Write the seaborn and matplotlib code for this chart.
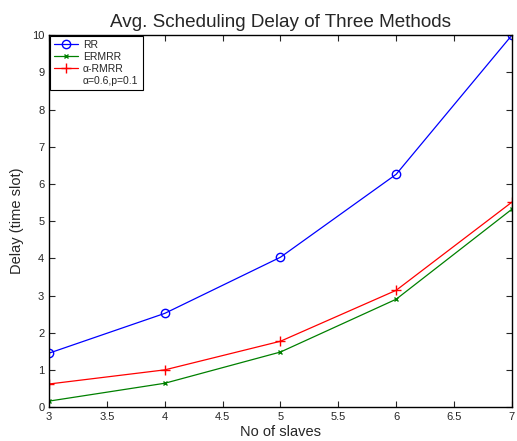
import pandas as pd
import matplotlib
matplotlib.use("Agg")
import matplotlib.pyplot as plt
import seaborn as sns
from matplotlib.lines import Line2D

# data
slaves = [3, 4, 5, 6, 7]
rr = [1.45, 2.52, 4.03, 6.26, 10.0]
ermrr = [0.16, 0.64, 1.48, 2.90, 5.32]
rmrr = [0.62, 1.00, 1.77, 3.14, 5.51]
methods = ["RR", "ERMRR", "α-RMRR"]

sns.set_theme(style="ticks")
plt.rcParams["font.family"] = ["Liberation Sans", "DejaVu Sans"]

df = pd.DataFrame({
    "slaves": slaves * 3,
    "delay": rr + ermrr + rmrr,
    "method": [m for m in methods for _ in slaves],
})

colors = {"RR": "#0000FF", "ERMRR": "#008000", "α-RMRR": "#FF0000"}
markers = {"RR": "o", "ERMRR": "x", "α-RMRR": "+"}
sizes = {"RR": 6, "ERMRR": 3.5, "α-RMRR": 7}

fig, ax = plt.subplots(figsize=(5.17, 4.41), dpi=100)
for m in methods:
    sub = df[df["method"] == m]
    sns.lineplot(data=sub, x="slaves", y="delay", ax=ax, color=colors[m],
                 marker=markers[m], markersize=sizes[m], markerfacecolor="none",
                 markeredgecolor=colors[m], markeredgewidth=1.0, linewidth=0.9,
                 label=m, legend=False)

ax.set_xlim(3, 7)
ax.set_ylim(0, 10)
ax.set_xticks([3, 3.5, 4, 4.5, 5, 5.5, 6, 6.5, 7])
ax.set_xticklabels(["3", "3.5", "4", "4.5", "5", "5.5", "6", "6.5", "7"])
ax.set_yticks(range(0, 11))
ax.tick_params(direction="in", top=True, right=True, labelsize=8, length=4, width=0.8)
for s in ax.spines.values():
    s.set_linewidth(1.0)
    s.set_color("black")

ax.set_title("Avg. Scheduling Delay of Three Methods", fontsize=13.6, pad=6)
ax.set_xlabel("No of slaves", fontsize=10.5, labelpad=2)
ax.set_ylabel("Delay (time slot)", fontsize=10.5, labelpad=6)

handles = [Line2D([], [], color=colors[m], marker=markers[m], markersize=sizes[m],
                  markerfacecolor="none", linewidth=0.9) for m in methods]
handles.append(Line2D([], [], color="none"))
labels = methods + ["α=0.6,p=0.1"]
leg = ax.legend(handles, labels, loc="upper left", fontsize=7.5, frameon=True,
                fancybox=False, edgecolor="black", framealpha=1,
                borderaxespad=0.05, handlelength=2.3, labelspacing=0.2,
                borderpad=0.4, handletextpad=0.5)
leg.get_frame().set_linewidth(0.8)

fig.subplots_adjust(left=0.095, right=0.99, top=0.92, bottom=0.077)
fig.savefig("out.png", dpi=100, facecolor="white")
